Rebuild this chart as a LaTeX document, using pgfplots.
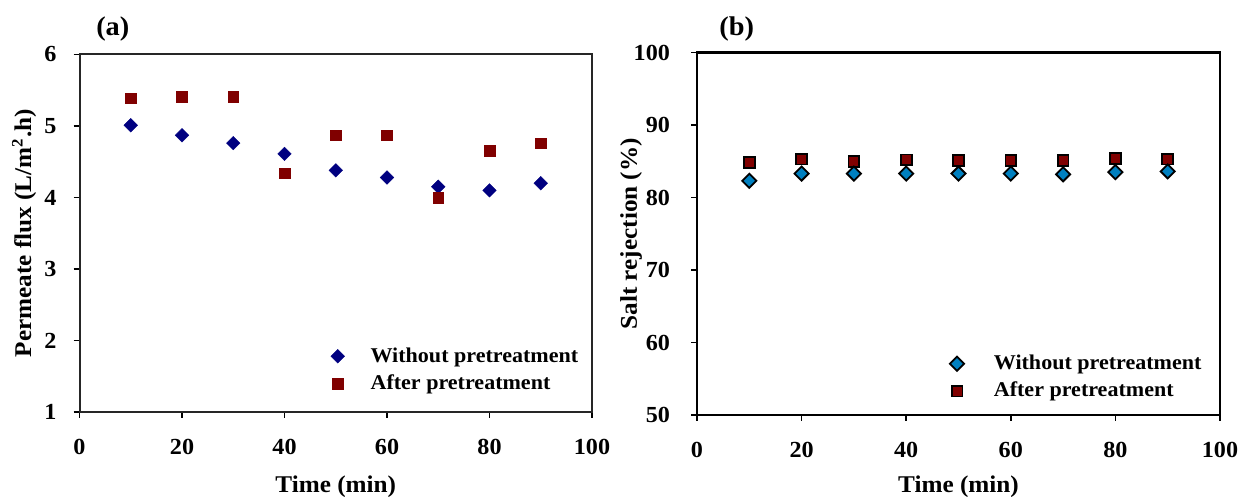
\documentclass[border=0pt]{standalone}
\usepackage{fontspec}
\setmainfont{Liberation Serif}[FakeStretch=1.05]
\usepackage{pgfplots}
\pgfplotsset{compat=1.18}
\definecolor{navyA}{RGB}{0,0,128}
\definecolor{redA}{RGB}{128,0,0}
\definecolor{blueB}{RGB}{0,128,192}

\pgfplotsset{
  common/.style={
    scale only axis,
    axis line style={line width=1pt, black!85},
    tick align=outside, tick pos=left,
    major tick length=3pt,
    tick style={line width=0.8pt, black},
    xmin=0, xmax=100, xtick={0,20,...,100},
    /pgf/number format/assume math mode=true,
    tick label style={font=\fontsize{11.5}{13}\selectfont\bfseries},
    xticklabel style={yshift=-7pt},
    label style={font=\fontsize{12}{14}\selectfont\bfseries},
    every axis title shift=0pt,
    title style={font=\fontsize{13.5}{15}\selectfont\bfseries, anchor=center, yshift=0pt},
    legend cell align=left,
    legend style={draw=none, fill=none, inner sep=0pt, anchor=north west,
      font=\fontsize{10.5}{12}\selectfont\bfseries,
      nodes={inner ysep=2.4pt}},
  }
}

\begin{document}
\begin{tikzpicture}
\useasboundingbox (0,0) rectangle (621pt,248.5pt);

% ---------- (a) ----------
\begin{axis}[common,
  at={(39.75pt,42.5pt)}, anchor=south west,
  width=256.25pt, height=178.75pt,
  ymin=1, ymax=6, ytick={1,2,...,6},
  yticklabel style={xshift=-5pt},
  xlabel={Time (min)},
  xlabel style={at={(axis description cs:0.5,-0.21)}, anchor=center},
  ylabel={Permeate flux (L/m\textsuperscript{2}.h)},
  ylabel style={at={(axis description cs:-0.108,0.5)}, anchor=center, rotate=0},
  title={(a)},
  title style={at={(axis description cs:0.065,1.07)}},
  legend style={at={(axis description cs:0.469,0.195)}},
  legend image code/.code={\path (0cm,0cm) (0.8cm,0cm); \draw[mark repeat=2,mark phase=2,#1] plot coordinates {(0cm,0cm) (0.3cm,0cm) (0.8cm,0cm)};},
]
\addplot[only marks, mark=square*, mark size=2.4pt, mark options={rotate=45, fill=navyA, draw=navyA, line width=0.2pt}]
  coordinates {(10,5.01) (20,4.87) (30,4.76) (40,4.61) (50,4.38) (60,4.28) (70,4.15) (80,4.10) (90,4.20)};
\addlegendentry{Without pretreatment}
\addplot[only marks, mark=square*, mark size=2.7pt, mark options={fill=redA, draw=redA, line width=0.2pt}]
  coordinates {(10,5.39) (20,5.41) (30,5.41) (40,4.34) (50,4.87) (60,4.87) (70,4.00) (80,4.65) (90,4.76)};
\addlegendentry{After pretreatment}
\end{axis}

% ---------- (b) ----------
\begin{axis}[common,
  at={(348.5pt,41pt)}, anchor=south west,
  width=261.5pt, height=181.25pt,
  axis line style={line width=1.2pt, black},
  ymin=50, ymax=100, ytick={50,60,...,100},
  yticklabel style={xshift=-7pt},
  xlabel={Time (min)},
  xlabel style={at={(axis description cs:0.5,-0.199)}, anchor=center},
  ylabel={Salt rejection (\%)},
  ylabel style={at={(axis description cs:-0.126,0.5)}, anchor=center, rotate=0},
  title={(b)},
  title style={at={(axis description cs:0.076,1.065)}},
  legend style={at={(axis description cs:0.463,0.18)}},
  reverse legend,
  legend image code/.code={\path (0cm,0cm) (0.87cm,0cm); \draw[mark repeat=2,mark phase=2,#1] plot coordinates {(0cm,0cm) (0.3cm,0cm) (0.87cm,0cm)};},
]
\addplot[only marks, mark=square*, mark size=2.7pt, mark options={fill=redA, draw=black, line width=0.9pt}]
  coordinates {(10,84.8) (20,85.3) (30,85.0) (40,85.2) (50,85.1) (60,85.1) (70,85.1) (80,85.4) (90,85.3)};
\addlegendentry{After pretreatment}
\addplot[only marks, mark=square*, mark size=2.5pt, mark options={rotate=45, fill=blueB, draw=black, line width=0.9pt}]
  coordinates {(10,82.3) (20,83.3) (30,83.3) (40,83.3) (50,83.3) (60,83.3) (70,83.2) (80,83.5) (90,83.6)};
\addlegendentry{Without pretreatment}
\end{axis}
\end{tikzpicture}
\end{document}
